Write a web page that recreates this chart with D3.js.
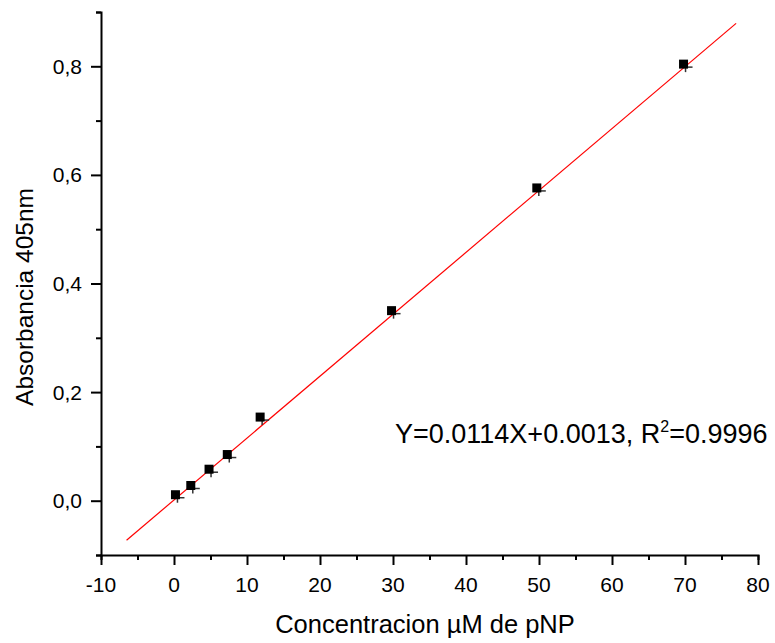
<!DOCTYPE html>
<html>
<head>
    <meta charset="utf-8">
    <title>Curva de calibracion pNP</title>
    <style>
        body { margin: 0; background: #ffffff; }
        #chart { display: block; }
        text { font-family: "Liberation Sans", Arial, sans-serif; fill: #000; }
    </style>
    <script src="https://d3js.org/d3.v7.min.js"></script>
</head>
<body>
    <svg id="chart" width="775" height="643"></svg>
    <script>
        // datos
        var concentracion = [0.2, 2.3, 4.8, 7.3, 11.8, 29.8, 49.7, 69.8];
        var absorbancia = [0.011, 0.028, 0.058, 0.085, 0.154, 0.350, 0.576, 0.804];
        var pendiente = 0.0114;
        var intercepto = 0.0013;
        var rangoAjuste = [-6.5, 77];
        var xTicks = [-10, 0, 10, 20, 30, 40, 50, 60, 70, 80];
        var yTicks = [0, 0.2, 0.4, 0.6, 0.8];

        var svg = d3.select("#chart");

        var x = d3.scaleLinear().domain([-10, 80]).range([101, 758]);
        var y = d3.scaleLinear().domain([-0.1, 0.9]).range([555, 12]);

        var fmt = function(d) { return d3.format(".1f")(d).replace(".", ","); };

        // eje x
        var xAxis = svg.append("g").attr("transform", "translate(0," + y(-0.1) + ")");
        xAxis.call(d3.axisBottom(x).tickValues(d3.range(-10, 81, 5)).tickSize(5).tickFormat(""));
        xAxis.call(function(g) {
            g.selectAll(".tick").filter(function(d) { return xTicks.indexOf(d) >= 0; })
                .select("line").attr("y2", 10);
        });
        xAxis.selectAll("path.domain").attr("stroke-width", 2);
        xAxis.selectAll(".tick line").attr("stroke-width", 2);
        xAxis.selectAll(".tick text").remove();
        svg.append("g").selectAll("text")
            .data(xTicks)
            .enter().append("text")
            .attr("x", function(d) { return x(d); })
            .attr("y", 592)
            .attr("text-anchor", "middle")
            .style("font-size", "21px")
            .text(function(d) { return d; });

        // eje y
        var yAxis = svg.append("g").attr("transform", "translate(" + x(-10) + ",0)");
        yAxis.call(d3.axisLeft(y).tickValues(d3.range(-1, 10).map(function(i) { return i / 10; })).tickSize(5).tickFormat(""));
        yAxis.call(function(g) {
            g.selectAll(".tick").filter(function(d, i) { return (i % 2) === 1; })
                .select("line").attr("x2", -10);
        });
        yAxis.selectAll("path.domain").attr("stroke-width", 2);
        yAxis.selectAll(".tick line").attr("stroke-width", 2);
        yAxis.selectAll(".tick text").remove();
        svg.append("g").selectAll("text")
            .data(yTicks)
            .enter().append("text")
            .attr("x", 82)
            .attr("y", function(d) { return y(d); })
            .attr("dy", "0.36em")
            .attr("text-anchor", "end")
            .style("font-size", "21px")
            .text(fmt);

        svg.selectAll(".domain").attr("stroke", "#000");
        svg.selectAll(".tick line").attr("stroke", "#000");

        // recta de ajuste
        svg.append("line")
            .attr("x1", x(rangoAjuste[0]))
            .attr("y1", y(pendiente * rangoAjuste[0] + intercepto))
            .attr("x2", x(rangoAjuste[1]))
            .attr("y2", y(pendiente * rangoAjuste[1] + intercepto))
            .attr("stroke", "#ff0000")
            .attr("stroke-width", 1.2);

        // puntos con barras de error pequenas
        var puntos = svg.append("g");
        concentracion.forEach(function(c, i) {
            var px = x(c), py = y(absorbancia[i]);
            puntos.append("line")
                .attr("x1", px).attr("x2", px + 9)
                .attr("y1", py + 3).attr("y2", py + 3)
                .attr("stroke", "#333").attr("stroke-width", 1.5);
            puntos.append("line")
                .attr("x1", px + 2).attr("x2", px + 2)
                .attr("y1", py).attr("y2", py + 8)
                .attr("stroke", "#333").attr("stroke-width", 1.5);
            puntos.append("rect")
                .attr("x", px - 4.5).attr("y", py - 4.5)
                .attr("width", 9).attr("height", 9)
                .attr("fill", "#000");
        });

        // ecuacion
        var eq = svg.append("text")
            .attr("x", 395)
            .attr("y", 443)
            .style("font-size", "27px");
        eq.append("tspan").text("Y=0.0114X+0.0013, R");
        eq.append("tspan").attr("dy", -11).style("font-size", "16px").text("2");
        eq.append("tspan").attr("dy", 11).text("=0.9996");

        // titulos
        svg.append("text")
            .attr("x", 425)
            .attr("y", 633)
            .attr("text-anchor", "middle")
            .style("font-size", "25.5px")
            .text("Concentracion µM de pNP");

        svg.append("text")
            .attr("transform", "translate(33,297) rotate(-90)")
            .attr("text-anchor", "middle")
            .style("font-size", "24.5px")
            .text("Absorbancia 405nm");
    </script>
</body>
</html>
